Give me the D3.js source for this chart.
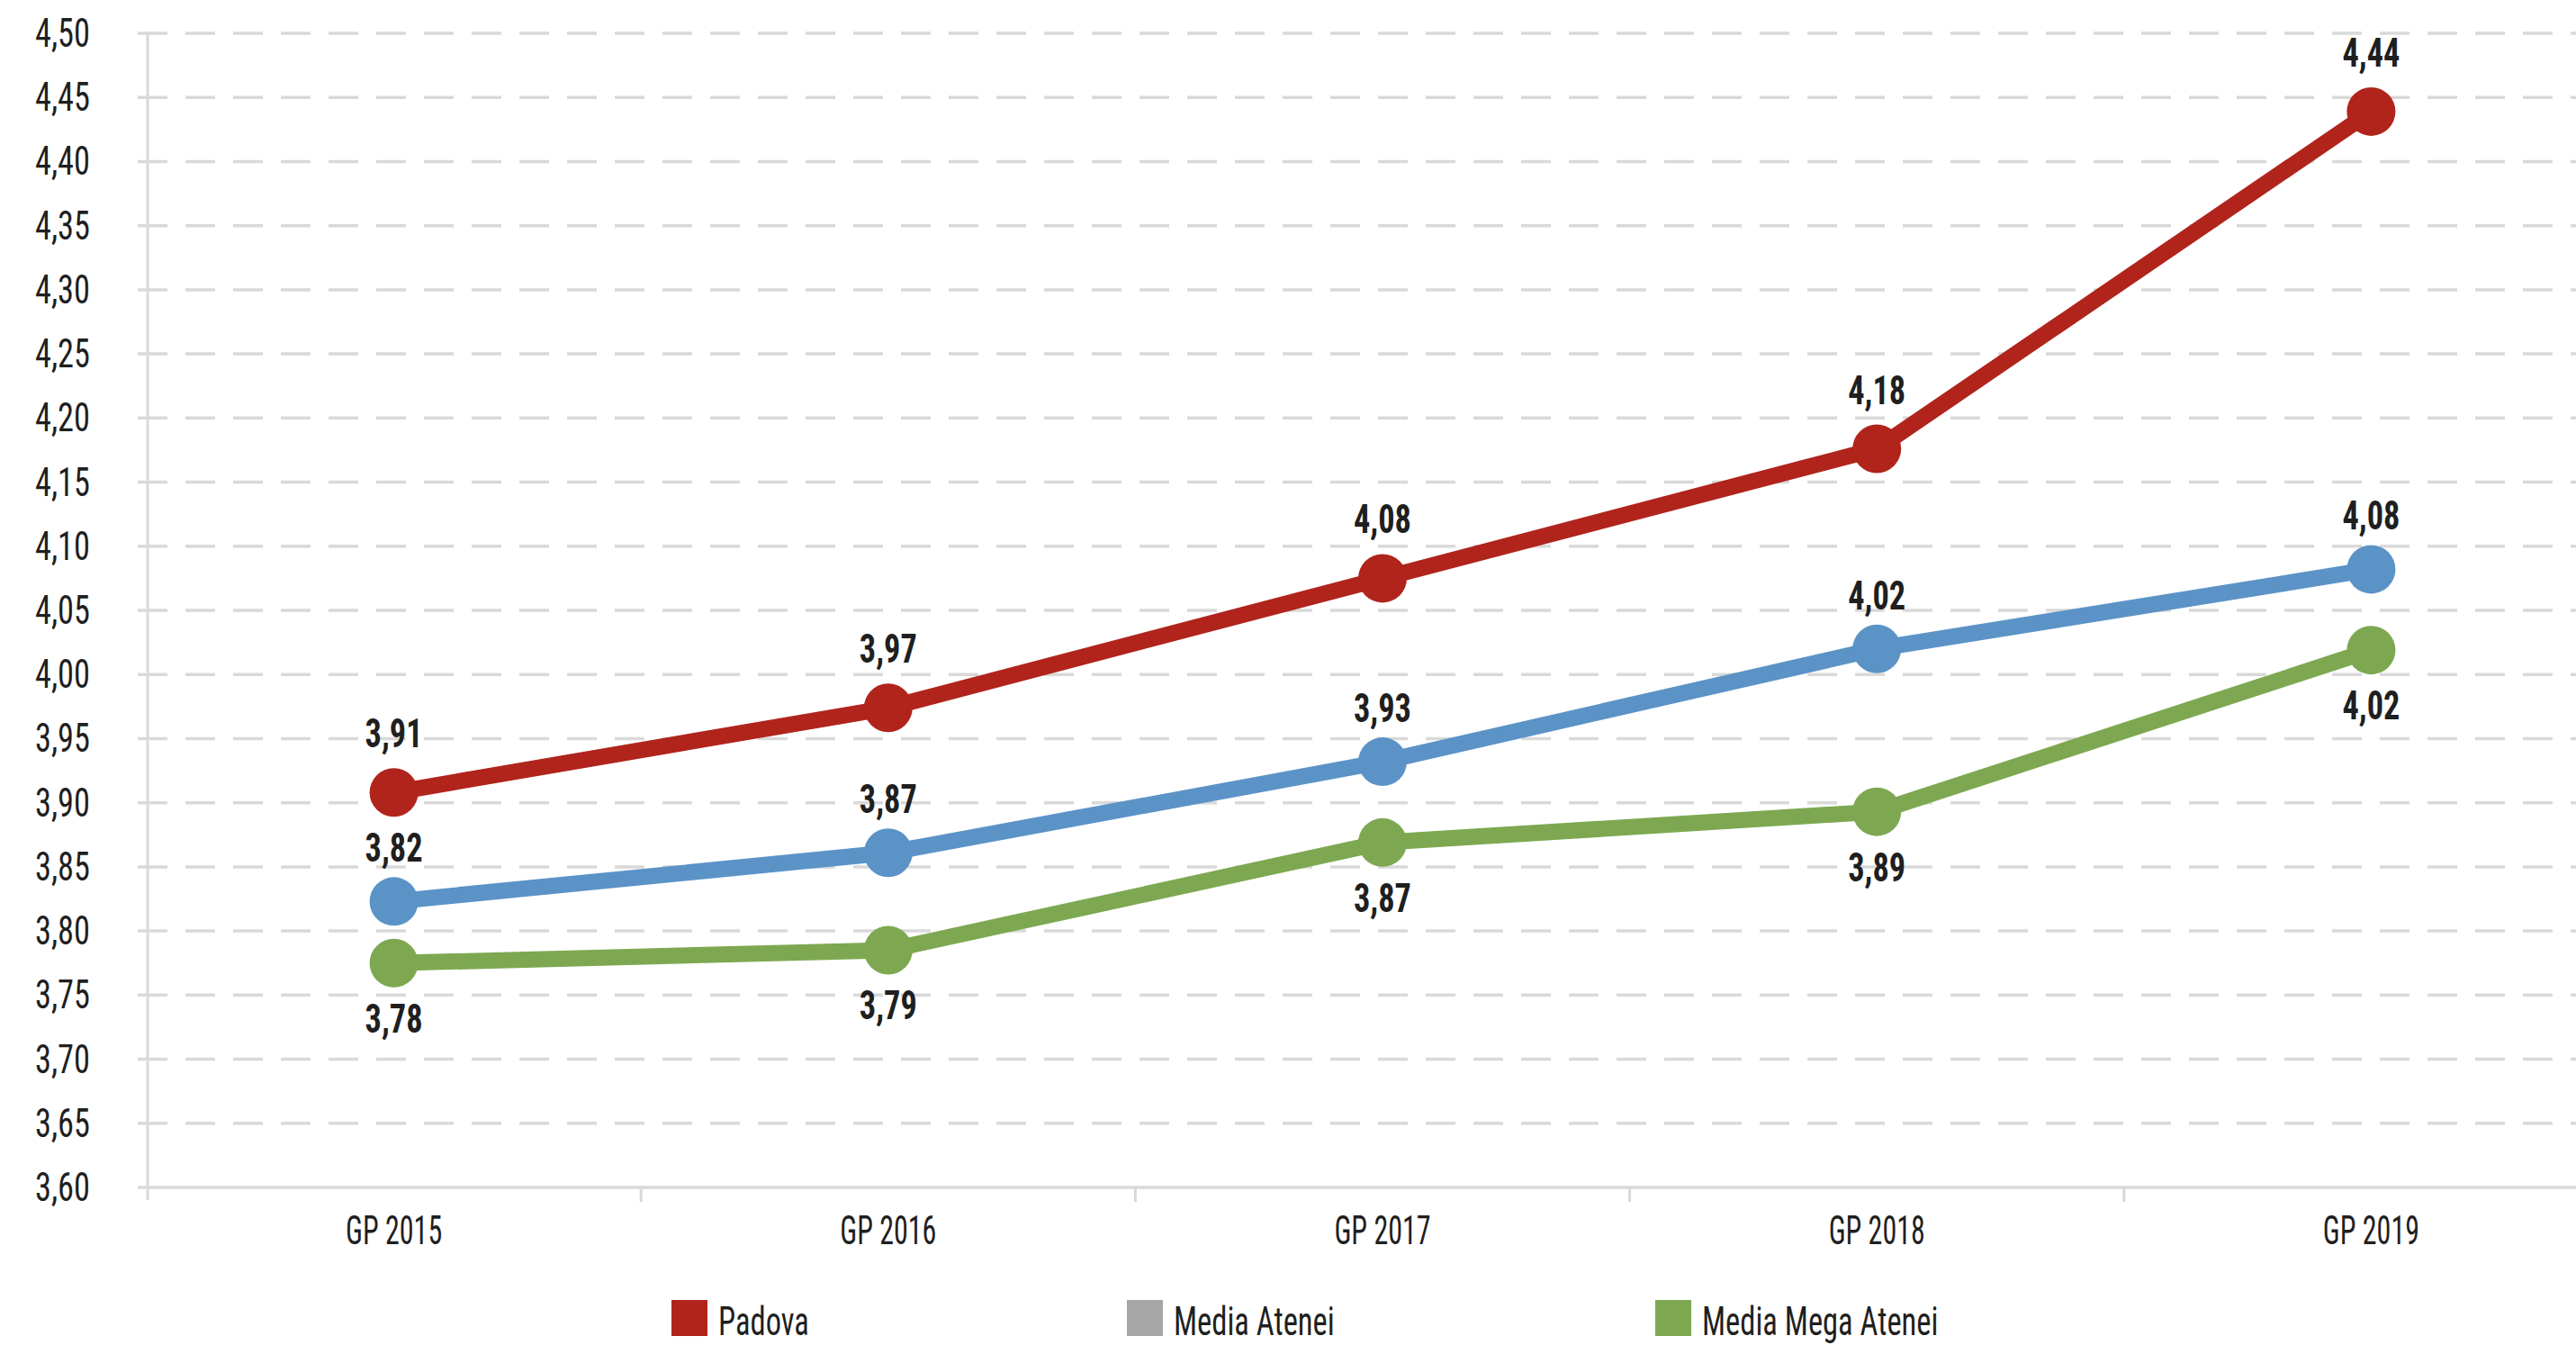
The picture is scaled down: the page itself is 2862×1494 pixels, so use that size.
<!DOCTYPE html>
<html>
<head>
<meta charset="utf-8">
<script src="https://cdn.jsdelivr.net/npm/d3@7"></script>
<style>
  html, body { margin: 0; padding: 0; background: #ffffff; }
  svg { display: block; }
  text { font-family: "Liberation Sans Narrow", "Roboto Condensed", "DejaVu Sans Condensed", "Liberation Sans", sans-serif; fill: #1f1f1f; }
</style>
</head>
<body>
<svg id="chart" width="2862" height="1494"></svg>
<script>
// ---- Data ----
const categories = ["GP 2015", "GP 2016", "GP 2017", "GP 2018", "GP 2019"];
const padova = [3.908, 3.974, 4.075, 4.176, 4.439];
const mediaAtenei = [3.823, 3.861, 3.932, 4.020, 4.082];
const mediaMegaAtenei = [3.775, 3.785, 3.869, 3.893, 4.019];
const padovaLabels = ["3,91", "3,97", "4,08", "4,18", "4,44"];
const mediaAteneiLabels = ["3,82", "3,87", "3,93", "4,02", "4,08"];
const mediaMegaAteneiLabels = ["3,78", "3,79", "3,87", "3,89", "4,02"];
const yTicks = [3.60, 3.65, 3.70, 3.75, 3.80, 3.85, 3.90, 3.95, 4.00, 4.05, 4.10, 4.15, 4.20, 4.25, 4.30, 4.35, 4.40, 4.45, 4.50];
const seriesNames = ["Padova", "Media Atenei", "Media Mega Atenei"];
const seriesColors = ["#b0241c", "#5b93c7", "#7da851"];
const legendColors = ["#b0241c", "#a6a6a6", "#7da851"];

const W = 2862, H = 1494;
const svg = d3.select("#chart");
const fmt = v => v.toFixed(2).replace(".", ",");

const x = d3.scaleBand().domain(categories).range([163, 2909]).paddingInner(0).paddingOuter(0);
const cx = c => x(c) + x.bandwidth() / 2;
const y = d3.scaleLinear().domain([3.60, 4.50]).range([1319, 37]);

// grid lines (dashed)
svg.append("g").selectAll("line")
  .data(yTicks.filter(t => t > 3.6001))
  .join("line")
  .attr("x1", 153).attr("x2", W)
  .attr("y1", d => y(d)).attr("y2", d => y(d))
  .attr("stroke", "#d9d9d9").attr("stroke-width", 3.5)
  .attr("stroke-dasharray", "33,20");

// y axis
const yAxis = svg.append("g").attr("transform", "translate(164,0)")
  .call(d3.axisLeft(y).tickValues(yTicks).tickSize(0).tickPadding(64).tickFormat(fmt));
yAxis.select(".domain").remove();
yAxis.selectAll("text").attr("class", "lbl").attr("data-k", 1).style("font-size", "44px").attr("dy", "0.33em");

// x axis
const xAxis = svg.append("g").attr("transform", "translate(0,1319)")
  .call(d3.axisBottom(x).tickSize(0).tickPadding(32));
xAxis.select(".domain").remove();
xAxis.selectAll("text").attr("class", "lbl").attr("data-k", 0.88).style("font-size", "44px");

// axis lines
svg.append("line").attr("x1", 153).attr("x2", W).attr("y1", y(3.6)).attr("y2", y(3.6))
  .attr("stroke", "#d9d9d9").attr("stroke-width", 3.5);
svg.append("line").attr("x1", 164).attr("x2", 164).attr("y1", y(4.5)).attr("y2", y(3.6) + 14)
  .attr("stroke", "#d9d9d9").attr("stroke-width", 3);
svg.append("g").selectAll("line").data(categories.slice(1)).join("line")
  .attr("x1", d => x(d)).attr("x2", d => x(d))
  .attr("y1", y(3.6)).attr("y2", y(3.6) + 16)
  .attr("stroke", "#d9d9d9").attr("stroke-width", 3);

// series
const allSeries = [padova, mediaAtenei, mediaMegaAtenei];
const allLabels = [padovaLabels, mediaAteneiLabels, mediaMegaAteneiLabels];
const labelOffsets = [-50, -44, 77];
const line = d3.line().x((d, i) => cx(categories[i])).y(d => y(d));
allSeries.forEach((vals, s) => {
  const g = svg.append("g");
  g.append("path").datum(vals).attr("d", line)
    .attr("fill", "none").attr("stroke", seriesColors[s]).attr("stroke-width", 18)
    .attr("stroke-linejoin", "round");
  g.selectAll("circle").data(vals).join("circle")
    .attr("cx", (d, i) => cx(categories[i])).attr("cy", d => y(d)).attr("r", 27)
    .attr("fill", seriesColors[s]);
});
allSeries.forEach((vals, s) => {
  svg.append("g").selectAll("text").data(vals).join("text")
    .attr("class", "lbl").attr("data-k", 1)
    .attr("x", (d, i) => cx(categories[i])).attr("y", d => y(d) + labelOffsets[s])
    .attr("text-anchor", "middle").style("font-size", "44px").style("font-weight", "bold")
    .text((d, i) => allLabels[s][i]);
});

// legend
const legendX = [746, 1252, 1839];
const lg = svg.append("g").selectAll("g").data(seriesNames).join("g")
  .attr("transform", (d, i) => `translate(${legendX[i]},1444)`);
lg.append("rect").attr("width", 40).attr("height", 40).attr("fill", (d, i) => legendColors[i]);
lg.append("text").attr("class", "lbl").attr("data-k", 0.95).attr("x", 52).attr("y", 39).style("font-size", "44px").text(d => d);

// condense all text to match reference's condensed face
const probe = svg.append("text").style("font-size", "44px").text("4,50");
const k = 61 / probe.node().getComputedTextLength();
probe.remove();
svg.selectAll("text.lbl").each(function () {
  const len = this.getComputedTextLength();
  const f = +this.getAttribute("data-k") || 1;
  d3.select(this).attr("textLength", len * k * f).attr("lengthAdjust", "spacingAndGlyphs");
});
</script>
</body>
</html>
